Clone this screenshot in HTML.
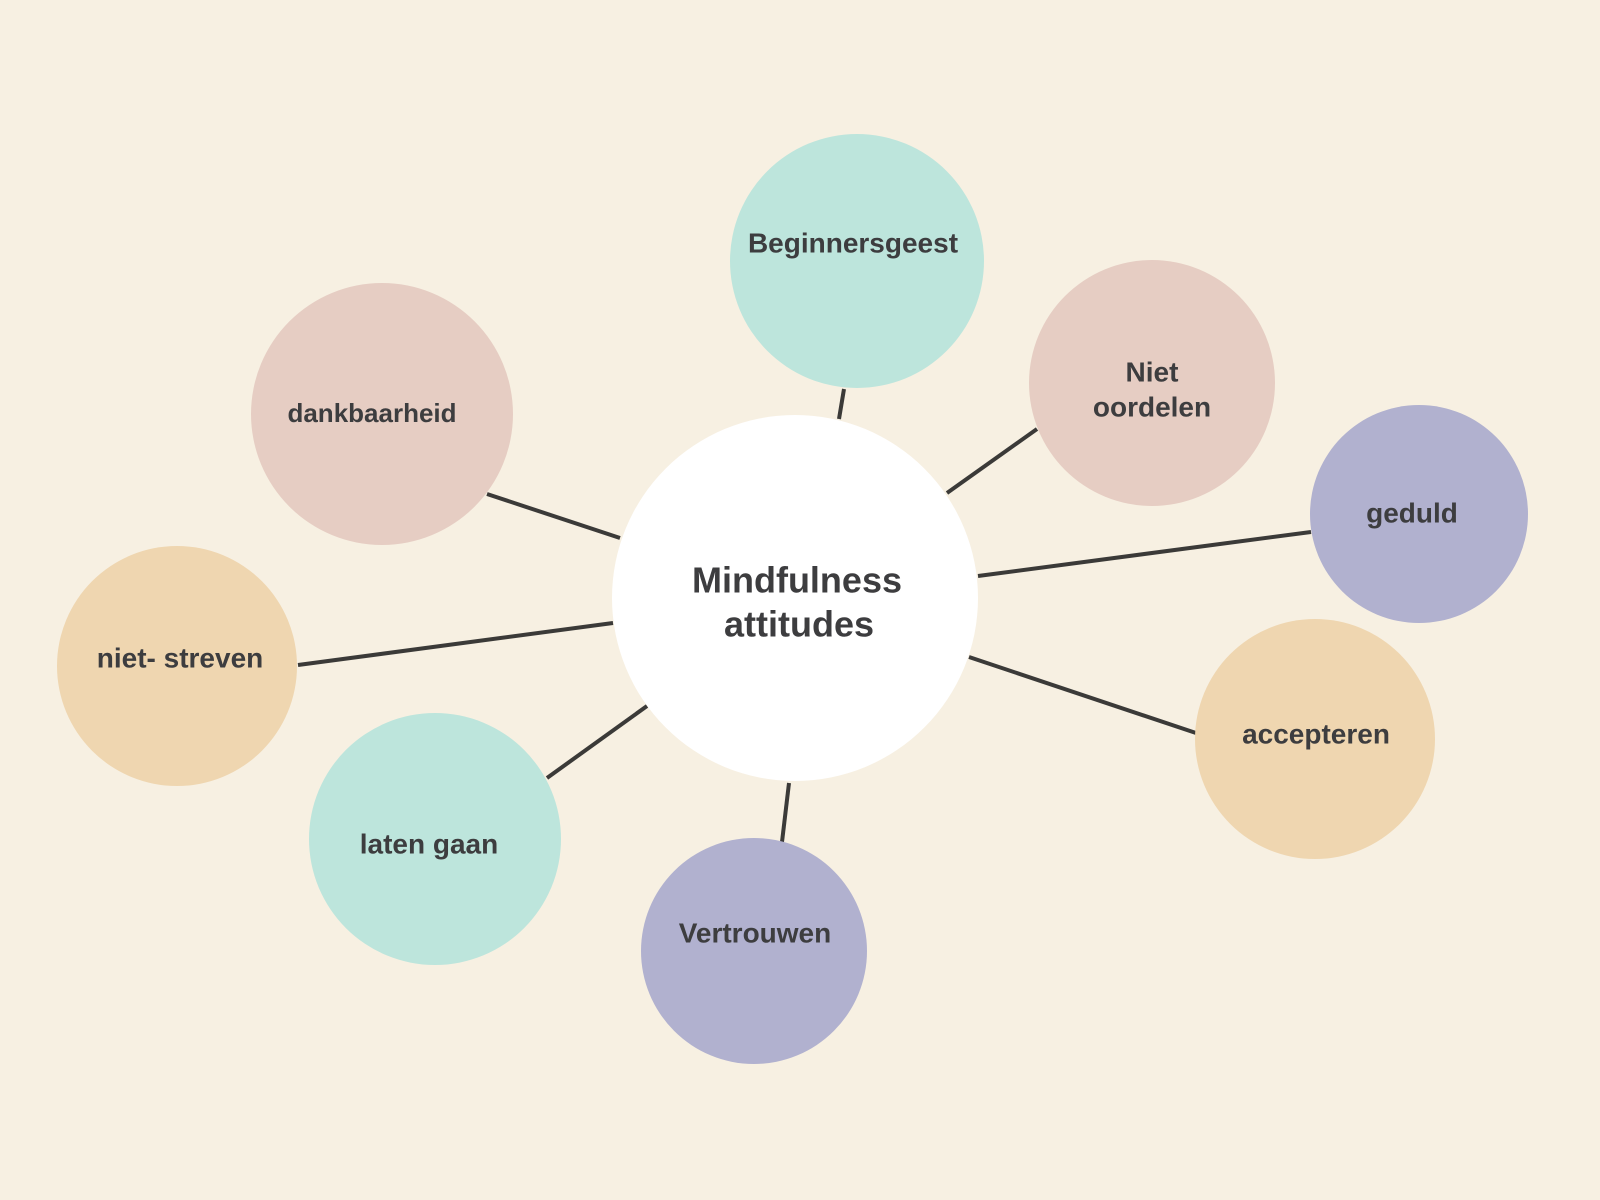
<!DOCTYPE html>
<html><head><meta charset="utf-8"><style>
html,body{margin:0;padding:0;background:#f7f0e2;}
svg{display:block}
text{font-family:"Liberation Sans",sans-serif;font-weight:bold;fill:#3d3d3f;text-anchor:middle;dominant-baseline:central}
</style></head><body>
<svg width="1600" height="1200" viewBox="0 0 1600 1200">
<rect width="1600" height="1200" fill="#f7f0e2"/>
<g stroke="#3b3a38" stroke-width="4">
<line x1="839" y1="419" x2="844" y2="389"/>
<line x1="947" y1="493" x2="1037" y2="429"/>
<line x1="978" y1="576" x2="1311" y2="532"/>
<line x1="969" y1="657" x2="1196" y2="733"/>
<line x1="789" y1="783" x2="782" y2="842"/>
<line x1="647" y1="706" x2="547" y2="778"/>
<line x1="613" y1="623" x2="298" y2="665"/>
<line x1="620" y1="538" x2="487" y2="494"/>
</g>
<circle cx="795" cy="598" r="183" fill="#ffffff"/>
<circle cx="857" cy="261" r="127" fill="#bde5dc"/>
<circle cx="1152" cy="383" r="123" fill="#e6cdc3"/>
<circle cx="1419" cy="514" r="109" fill="#b1b1cf"/>
<circle cx="1315" cy="739" r="120" fill="#efd6b0"/>
<circle cx="754" cy="951" r="113" fill="#b1b1cf"/>
<circle cx="435" cy="839" r="126" fill="#bde5dc"/>
<circle cx="177" cy="666" r="120" fill="#efd6b0"/>
<circle cx="382" cy="414" r="131" fill="#e6cdc3"/>
<text x="797" y="580" font-size="36">Mindfulness</text>
<text x="799" y="624" font-size="36">attitudes</text>
<text x="853" y="243" font-size="28">Beginnersgeest</text>
<text x="1152" y="372" font-size="28">Niet</text>
<text x="1152" y="407" font-size="28">oordelen</text>
<text x="1412" y="513" font-size="28">geduld</text>
<text x="1316" y="734" font-size="28">accepteren</text>
<text x="755" y="933" font-size="28">Vertrouwen</text>
<text x="429" y="844" font-size="28">laten gaan</text>
<text x="180" y="658" font-size="28">niet- streven</text>
<text x="372" y="413" font-size="26">dankbaarheid</text>
</svg>
</body></html>
